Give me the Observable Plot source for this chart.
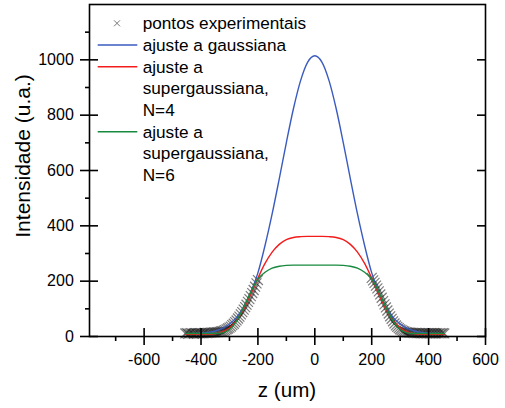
<!DOCTYPE html>
<html><head><meta charset="utf-8">
<script src="https://cdn.jsdelivr.net/npm/d3@7"></script>
<script src="https://cdn.jsdelivr.net/npm/@observablehq/plot@0.6"></script>
<style>
body{margin:0;background:#fff;}
#chart{width:505px;height:408px;}
</style></head><body><div id="chart"></div>
<script>
// ---- data ----
const zFit = [-455,-425,-400,-375,-350,-325,-300,-275,-250,-225,-200,-175,-150,-125,-100,-75,-50,-25,0,25,50,75,100,125,150,175,200,225,250,275,300,325,350,375,400,425,455];
const gaussFit = [10,11,12,15,20,29,45,69,107,160,230,329,443,570,701,824,925,992,1015,992,925,824,701,570,443,329,230,160,107,69,45,29,20,15,12,11,10];
const superN4Fit = [8,8,8,8,10,17,31,58,100,154,211,264,305,333,350,358,361,362,362,362,361,358,350,333,305,264,211,154,100,58,31,17,10,8,8,8,8];
const superN6Fit = [11,11,11,11,11,13,25,56,106,161,208,232,247,254,257,258,258,258,258,258,258,258,257,254,247,232,208,161,106,56,25,13,11,11,11,11,11];

const zExp = [-455,-450,-445,-440,-435,-430,-425,-420,-415,-410,-405,-400,-395,-390,-385,-380,-375,-370,-365,-360,-355,-350,-345,-340,-335,-330,-325,-320,-315,-310,-305,-300,-295,-290,-285,-280,-275,-270,-265,-260,-255,-250,-245,-240,-235,-230,-225,-220,-215,-210,-205,-200,
  200,205,210,215,220,225,230,235,240,245,250,255,260,265,270,275,280,285,290,295,300,305,310,315,320,325,330,335,340,345,350,355,360,365,370,375,380,385,390,395,400,405,410,415,420,425,430,435,440,445,450,455];
const intensityExp = [11,12,10,11,12,11,10,12,11,12,11,12,11,12,13,12,13,13,14,14,15,15,16,16,17,18,19,21,23,26,29,32,36,41,46,52,58,65,72,80,88,97,106,115,125,135,146,157,168,180,192,204,
  212,203,194,184,174,163,152,140,128,116,105,94,83,73,64,55,47,40,35,30,26,23,20,18,16,15,14,14,13,13,12,13,12,12,12,11,12,11,12,11,12,11,12,11,12,11,12,11,12,11,12,11];

const xMajorTicks = [-600,-400,-200,0,200,400,600];
const xMinorTicks = [-700,-500,-300,-100,100,300,500];
const yMajorTicks = [0,200,400,600,800,1000];
const yMinorTicks = [100,300,500,700,900,1100];
const xLabel = "z (um)";
const yLabel = "Intensidade (u.a.)";
const legendRows = ["pontos experimentais","ajuste a gaussiana","ajuste a","supergaussiana,","N=4","ajuste a","supergaussiana,","N=6"];
const colors = {gauss:"#3a5bbf", n4:"#f21c1c", n6:"#178a3e", exp:"#111"};

// ---- tables ----
const expData = zExp.map((z,i)=>({z, v:intensityExp[i]}));
const gaussData = zFit.map((z,i)=>({z, v:gaussFit[i]}));
const n4Data = zFit.map((z,i)=>({z, v:superN4Fit[i]}));
const n6Data = zFit.map((z,i)=>({z, v:superN6Fit[i]}));

const font = "'Liberation Sans', Arial, Helvetica, sans-serif";
const plain = d => String(d);
const noText = () => "";
const W = 505, H = 408, ML = 89, MR = 20, MT = 4, MB = 72;
const frameW = W - ML - MR, frameH = H - MT - MB;

const chart = Plot.plot({
  width:W, height:H,
  marginLeft:ML, marginRight:MR, marginTop:MT, marginBottom:MB,
  style:{fontFamily:font, fontSize:"16px", color:"#000", background:"#fff"},
  x:{domain:[-792,600]},
  y:{domain:[0,1200]},
  marks:[
    Plot.dot(expData, {x:"z", y:"v", symbol:"times", r:4.6, stroke:colors.exp, strokeOpacity:0.55, strokeWidth:1.2}),
    Plot.line(gaussData, {x:"z", y:"v", stroke:colors.gauss, strokeWidth:1.4, curve:"monotone-x"}),
    Plot.line(n4Data, {x:"z", y:"v", stroke:colors.n4, strokeWidth:1.4, curve:"monotone-x"}),
    Plot.line(n6Data, {x:"z", y:"v", stroke:colors.n6, strokeWidth:1.4, curve:"monotone-x"}),
    Plot.frame({stroke:"#000", strokeWidth:1.6}),
    Plot.axisX(xMajorTicks, {anchor:"bottom", tickSize:9, tickPadding:8.6, fontSize:16, label:null, strokeWidth:1.6, tickFormat:plain}),
    Plot.tickX(xMajorTicks, {x:d=>d, insetTop:frameH-8, stroke:"#000", strokeWidth:1.6}),
    Plot.axisX(xMinorTicks, {anchor:"bottom", tickSize:5, tickFormat:noText, label:null, strokeWidth:1.6}),
    Plot.axisY(yMajorTicks, {anchor:"left", tickSize:9, tickPadding:6.7, fontSize:16, label:null, strokeWidth:1.6, tickFormat:plain}),
    Plot.tickY(yMajorTicks, {y:d=>d, insetRight:frameW-9, stroke:"#000", strokeWidth:1.6}),
    Plot.axisY(yMinorTicks, {anchor:"left", tickSize:4, tickFormat:noText, label:null, strokeWidth:1.6}),
    Plot.tickY(yMajorTicks, {y:d=>d, insetLeft:frameW-8, stroke:"#000", strokeWidth:1.6})
  ]
});
document.getElementById("chart").appendChild(chart);

const svg = d3.select(chart);

// ---- axis titles ----
svg.append("text").attr("font-family", font).attr("font-size", 20.6).attr("fill","#000")
  .attr("text-anchor","middle").attr("x", ML + frameW/2).attr("y", 396.5).text(xLabel);
svg.append("text").attr("font-family", font).attr("font-size", 21).attr("fill","#000")
  .attr("text-anchor","middle").attr("transform","translate(29.5,156) rotate(-90)").text(yLabel);

// ---- legend (inside the frame, top-left) ----
const lg = svg.append("g").attr("font-family", font).attr("font-size", 17.2).attr("fill", "#000").attr("text-anchor","start");
const rowY = [23.3, 45, 66.7, 88.3, 110, 131.7, 153.3, 175];
legendRows.forEach((t,i)=>{
  lg.append("text").attr("x",142.7).attr("y",rowY[i]+5.9).text(t);
});
lg.append("path").attr("transform",`translate(117,${rowY[0]})`).attr("d","M-3,-3L3,3M-3,3L3,-3").attr("stroke","#777").attr("stroke-width",1).attr("fill","none");
[[1,colors.gauss],[2,colors.n4],[5,colors.n6]].forEach(([r,c])=>{
  lg.append("line").attr("x1",97.7).attr("x2",137.3).attr("y1",rowY[r]).attr("y2",rowY[r]).attr("stroke",c).attr("stroke-width",1.4);
});
</script></body></html>
